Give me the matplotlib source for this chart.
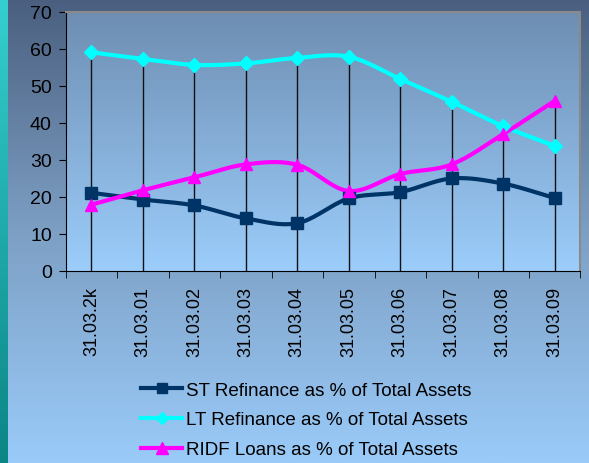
import numpy as np
import matplotlib
matplotlib.use("Agg")
import matplotlib.pyplot as plt
from matplotlib.colors import LinearSegmentedColormap

plt.rcParams["font.family"] = ["Liberation Sans", "DejaVu Sans"]

# data
dates = ["31.03.2k", "31.03.01", "31.03.02", "31.03.03", "31.03.04",
         "31.03.05", "31.03.06", "31.03.07", "31.03.08", "31.03.09"]
st_refinance = [21.1, 19.3, 17.7, 14.2, 12.9, 19.6, 21.3, 25.0, 23.6, 19.7]
lt_refinance = [59.1, 57.3, 55.7, 56.1, 57.6, 57.9, 51.9, 45.7, 39.1, 33.8]
ridf_loans = [17.9, 21.8, 25.3, 28.8, 28.7, 21.6, 26.2, 28.8, 37.0, 46.0]

labels = ["ST Refinance as % of Total Assets",
          "LT Refinance as % of Total Assets",
          "RIDF Loans as % of Total Assets"]


def smooth(x, y, n=20):
    # Catmull-Rom style smoothing, similar to Excel's smoothed lines
    x = np.asarray(x, float)
    y = np.asarray(y, float)
    px = np.concatenate([[2 * x[0] - x[1]], x, [2 * x[-1] - x[-2]]])
    py = np.concatenate([[2 * y[0] - y[1]], y, [2 * y[-1] - y[-2]]])
    xs, ys = [], []
    t = np.linspace(0, 1, n)
    for i in range(1, len(px) - 2):
        for p, out in ((px, xs), (py, ys)):
            p0, p1, p2, p3 = p[i - 1], p[i], p[i + 1], p[i + 2]
            c1 = p1 + (p2 - p0) / 6
            c2 = p2 - (p3 - p1) / 6
            out.extend((1 - t) ** 3 * p1 + 3 * (1 - t) ** 2 * t * c1
                       + 3 * (1 - t) * t ** 2 * c2 + t ** 3 * p2)
    return np.array(xs), np.array(ys)


fig = plt.figure(figsize=(5.89, 4.64), dpi=100)

# figure background gradient (dark at top, light at bottom)
bg = fig.add_axes([0, 0, 1, 1], zorder=-10)
bg_cmap = LinearSegmentedColormap.from_list("bg", ["#9acbf9", "#7d9fc4", "#4a5f7f"])
grad = np.linspace(0, 1, 256).reshape(-1, 1)
bg.imshow(grad, aspect="auto", cmap=bg_cmap, extent=[0, 1, 0, 1], origin="lower")
teal = LinearSegmentedColormap.from_list("teal", ["#0c8585", "#35cfcf"])
bg.imshow(grad, aspect="auto", cmap=teal, extent=[0, 0.012, 0, 1], origin="lower")
bg.set_xlim(0, 1)
bg.set_ylim(0, 1)
bg.axis("off")

ax = fig.add_axes([0.1115, 0.414, 0.874, 0.558])
x = np.arange(len(dates))

# plot area gradient
plot_cmap = LinearSegmentedColormap.from_list("pa", ["#9ccdfb", "#6e8eb2"])
ax.imshow(grad, aspect="auto", cmap=plot_cmap,
          extent=[-0.5, 9.5, 0, 70], origin="lower", zorder=0)

# drop lines
tops = np.max([st_refinance, lt_refinance, ridf_loans], axis=0)
ax.vlines(x, 0, tops, color="#111111", lw=1, zorder=1)

styles = [("#003366", "s", 8), ("#00ffff", "D", 7), ("#ff00ff", "^", 9)]
for vals, (col, mk, ms), lab in zip([st_refinance, lt_refinance, ridf_loans], styles, labels):
    sx, sy = smooth(x, vals)
    ax.plot(sx, sy, color=col, lw=3, zorder=3)
    ax.plot(x, vals, ls="none", marker=mk, ms=ms, color=col, zorder=4)
    ax.plot([], [], color=col, lw=3, marker=mk, ms=ms - 1, label=lab)

ax.set_xlim(-0.5, 9.5)
ax.set_ylim(0, 70)
ax.set_yticks(range(0, 71, 10))
ax.set_xticks(x)
ax.set_xticklabels(dates, rotation=90, fontsize=13)
ax.set_xticks(np.arange(-0.5, 10, 1), minor=True)
ax.tick_params(axis="x", which="major", length=0, pad=11)
ax.tick_params(axis="x", which="minor", length=5, direction="out")
ax.tick_params(axis="y", labelsize=14, length=5, direction="out", pad=5)

for side in ["top", "right"]:
    ax.spines[side].set_color("#8a8a8a")
    ax.spines[side].set_linewidth(1.5)
for side in ["left", "bottom"]:
    ax.spines[side].set_color("black")

fig.legend(loc="center", bbox_to_anchor=(0.52, 0.093), frameon=False,
           fontsize=13.5, handlelength=2.2, labelspacing=0.68, handletextpad=0.2)

fig.savefig("out.png", dpi=100)
